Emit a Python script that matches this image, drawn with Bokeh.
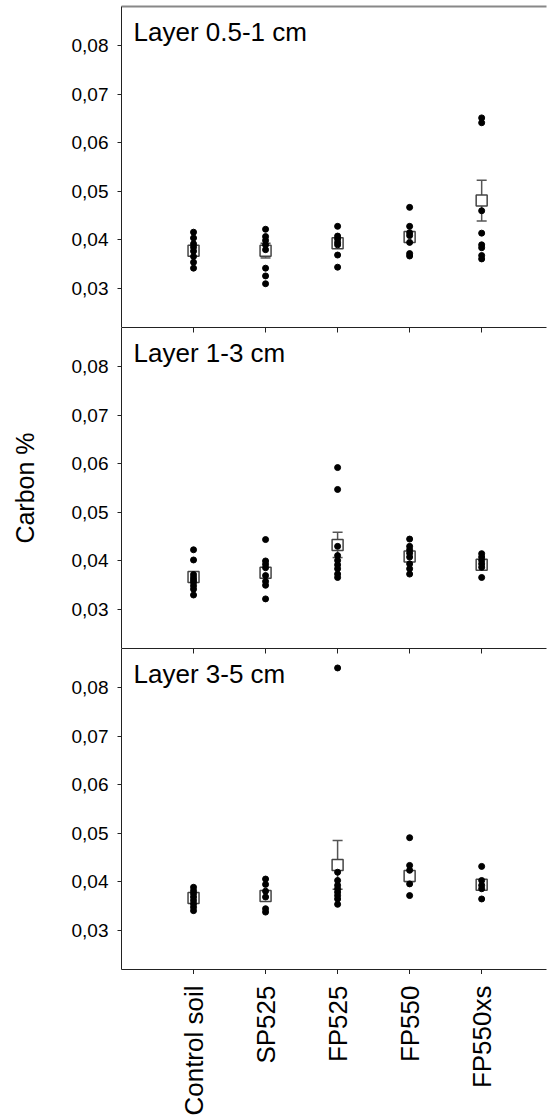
import math
from bokeh.plotting import figure
from bokeh.layouts import gridplot
from bokeh.models import (ColumnDataSource, Range1d, FixedTicker, LinearAxis,
                          Whisker, TeeHead, Label, CustomLabelingPolicy)
from bokeh.core.properties import value
from bokeh.embed import file_html
from bokeh.resources import INLINE

# ---------------- data ----------------
categories = ["Control soil", "SP525", "FP525", "FP550", "FP550xs"]
layers = ["Layer 0.5-1 cm", "Layer 1-3 cm", "Layer 3-5 cm"]
y_ticks = [0.03, 0.04, 0.05, 0.06, 0.07, 0.08]
y_tick_labels = ["0,03", "0,04", "0,05", "0,06", "0,07", "0,08"]
y_label = "Carbon %"

# Layer 0.5-1 cm : individual samples
l1_control = [0.0416, 0.0404, 0.0392, 0.0385, 0.0377, 0.0366, 0.0354, 0.0342]
l1_sp525 = [0.0422, 0.0407, 0.0399, 0.0390, 0.0380, 0.0342, 0.0326, 0.0310]
l1_fp525 = [0.0428, 0.0408, 0.0402, 0.0395, 0.0390, 0.0369, 0.0344]
l1_fp550 = [0.0467, 0.0428, 0.0415, 0.0409, 0.0395, 0.0372, 0.0367]
l1_fp550xs = [0.0651, 0.0641, 0.0460, 0.0414, 0.0390, 0.0384, 0.0368, 0.0361]
l1_mean = [0.0378, 0.0378, 0.0393, 0.0406, 0.0481]
l1_se = [0.0010, 0.0015, 0.0010, 0.0010, 0.0042]

# Layer 1-3 cm
l2_control = [0.0423, 0.0402, 0.0372, 0.0366, 0.0361, 0.0356, 0.0349, 0.0342, 0.0330]
l2_sp525 = [0.0444, 0.0400, 0.0393, 0.0386, 0.0370, 0.0358, 0.0350, 0.0322]
l2_fp525 = [0.0592, 0.0547, 0.0430, 0.0411, 0.0401, 0.0392, 0.0384, 0.0373, 0.0366]
l2_fp550 = [0.0445, 0.0430, 0.0423, 0.0416, 0.0408, 0.0394, 0.0384, 0.0373]
l2_fp550xs = [0.0415, 0.0408, 0.0401, 0.0394, 0.0387, 0.0366]
l2_mean = [0.0367, 0.0376, 0.0433, 0.0409, 0.0392]
l2_se = [0.0008, 0.0010, 0.0026, 0.0008, 0.0006]

# Layer 3-5 cm
l3_control = [0.0389, 0.0382, 0.0376, 0.0369, 0.0362, 0.0355, 0.0348, 0.0341]
l3_sp525 = [0.0406, 0.0395, 0.0381, 0.0369, 0.0345, 0.0338]
l3_fp525 = [0.0840, 0.0420, 0.0403, 0.0393, 0.0386, 0.0379, 0.0372, 0.0365, 0.0354]
l3_fp550 = [0.0491, 0.0434, 0.0424, 0.0396, 0.0372]
l3_fp550xs = [0.0432, 0.0403, 0.0393, 0.0386, 0.0365]
l3_mean = [0.0367, 0.0371, 0.0435, 0.0412, 0.0394]
l3_se = [0.0006, 0.0007, 0.0050, 0.0011, 0.0008]

panels = [
    (layers[0], [l1_control, l1_sp525, l1_fp525, l1_fp550, l1_fp550xs], l1_mean, l1_se),
    (layers[1], [l2_control, l2_sp525, l2_fp525, l2_fp550, l2_fp550xs], l2_mean, l2_se),
    (layers[2], [l3_control, l3_sp525, l3_fp525, l3_fp550, l3_fp550xs], l3_mean, l3_se),
]

# ---------------- style ----------------
FONT = "Liberation Sans"
X_START, X_END = -1.0, 4.9
Y_START, Y_END = 0.022, 0.088
GREY = "#555555"
cat_idx = list(range(len(categories)))
x_range = Range1d(X_START, X_END)


def no_labels():
    return CustomLabelingPolicy(code="""
        for (const i of indices) { indices.unset(i) }
        return indices
    """)


figs = []
for i, (title, groups, means, ses) in enumerate(panels):
    last = (i == len(panels) - 1)
    p = figure(width=547, frame_height=321,
               x_range=x_range, y_range=Range1d(Y_START, Y_END),
               output_backend="svg", toolbar_location=None,
               x_axis_location=None,
               min_border_left=121, min_border_right=1,
               min_border_top=6 if i == 0 else 0,
               min_border_bottom=0,
               outline_line_color=None, background_fill_color="white",
               border_fill_color="white")
    p.grid.visible = False

    # y axis
    ya = p.yaxis[0]
    ya.ticker = FixedTicker(ticks=y_ticks)
    ya.major_label_overrides = {t: l for t, l in zip(y_ticks, y_tick_labels)}
    ya.major_label_text_font = FONT
    ya.major_label_text_font_size = "19px"
    ya.major_label_text_color = "black"
    ya.major_tick_out = 4
    ya.major_tick_in = 0
    ya.minor_tick_out = 0
    ya.minor_tick_in = 0
    ya.major_label_standoff = 9
    ya.axis_line_color = "#222222"
    ya.major_tick_line_color = "#222222"
    if i == 1:
        ya.axis_label = y_label
        ya.axis_label_text_font = FONT
        ya.axis_label_text_font_size = "25px"
        ya.axis_label_text_font_style = "normal"
        ya.axis_label_text_color = "black"
        ya.axis_label_standoff = 30

    # top axis (frame border / ticks from the panel above)
    top = LinearAxis(ticker=FixedTicker(ticks=[] if i == 0 else cat_idx),
                     major_tick_in=0 if i == 0 else 5, major_tick_out=0,
                     minor_tick_in=0, minor_tick_out=0,
                     major_label_policy=no_labels(),
                     major_label_text_font_size="0px", major_label_standoff=0,
                     axis_line_color="#888888" if i == 0 else "#222222",
                     axis_line_width=2 if i == 0 else 1,
                     major_tick_line_color="#222222")
    p.add_layout(top, "above")

    if last:
        bot = LinearAxis(ticker=FixedTicker(ticks=cat_idx),
                         major_tick_in=0, major_tick_out=5,
                         minor_tick_in=0, minor_tick_out=0,
                         major_label_policy=no_labels(),
                         major_label_text_font_size="0px", major_label_standoff=0,
                         axis_line_color="#222222",
                         major_tick_line_color="#222222")
        p.add_layout(bot, "below")

    # error bars (mean +/- SE)
    ebs = ColumnDataSource(dict(
        x=cat_idx,
        upper=[m + s for m, s in zip(means, ses)],
        lower=[m - s for m, s in zip(means, ses)],
    ))
    w = Whisker(source=ebs, base="x", upper="upper", lower="lower",
                line_color=GREY, line_width=1.5, level="underlay",
                upper_head=TeeHead(size=10, line_color=GREY, line_width=1.5),
                lower_head=TeeHead(size=10, line_color=GREY, line_width=1.5))
    p.add_layout(w)

    # mean squares
    p.scatter(x=cat_idx, y=means, marker="square", size=11,
              fill_color="white", line_color="#444444", line_width=1.5)

    # individual samples
    xs, ys = [], []
    for k, g in enumerate(groups):
        xs.extend([k] * len(g))
        ys.extend(g)
    p.scatter(x=xs, y=ys, size=6, color="black")

    p.add_layout(Label(x=X_START, y=Y_END, x_offset=12, y_offset=-25,
                       text=title, text_font=FONT, text_font_size="26px",
                       text_color="black", text_baseline="alphabetic",
                       text_align="left"))
    figs.append(p)

# category labels strip (rotated, reading upwards, hanging under the ticks)
LAB_TOP = 1.0
lab = figure(width=547, height=145, x_range=x_range, y_range=Range1d(0, LAB_TOP),
             output_backend="svg", toolbar_location=None,
             x_axis_location=None, y_axis_location=None,
             min_border_left=121, min_border_right=1,
             min_border_top=0, min_border_bottom=0,
             outline_line_color=None, background_fill_color="white",
             border_fill_color="white")
lab.grid.visible = False
lab.text(x=cat_idx, y=[LAB_TOP] * len(categories), text=categories,
         angle=math.pi / 2, y_offset=11,
         text_align="right", text_baseline="middle",
         text_font=value(FONT), text_font_size="26px", text_color="black")
figs.append(lab)

grid = gridplot([[f] for f in figs], toolbar_location=None)

open("out.html", "w").write(file_html(grid, INLINE))
